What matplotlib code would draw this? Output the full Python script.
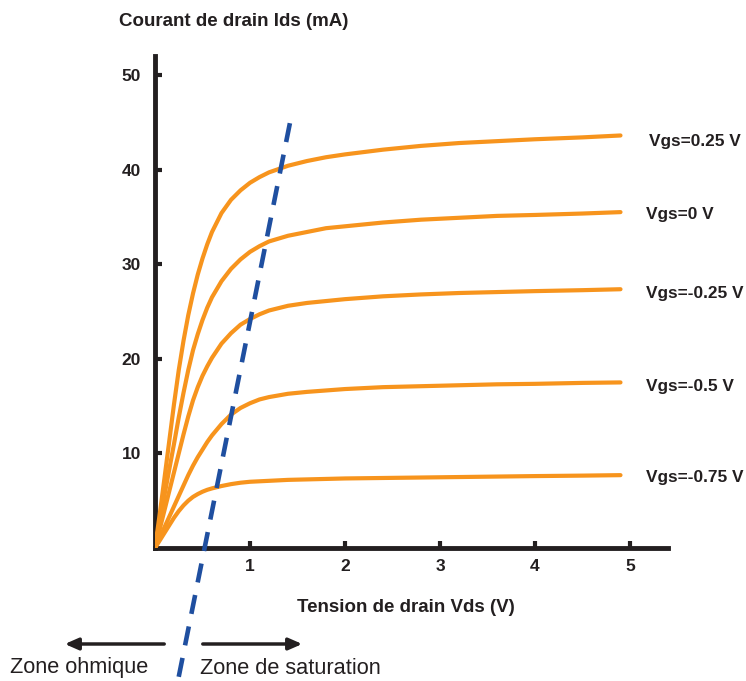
import matplotlib
matplotlib.use('Agg')
import matplotlib.pyplot as plt

plt.rcParams['font.family'] = ['Liberation Sans', 'DejaVu Sans']

# Vds (V) sampled along the curves
vds = [0, 0.05, 0.1, 0.15, 0.2, 0.25, 0.3, 0.35, 0.4, 0.45, 0.5, 0.55, 0.6, 0.7, 0.8, 0.9,
       1.0, 1.1, 1.2, 1.4, 1.6, 1.8, 2.0, 2.4, 2.8, 3.2, 3.6, 4.0, 4.5, 4.9]

# Ids (mA) for each Vgs
ids_p025 = [0, 3.6, 7.4, 11.3, 15.2, 18.8, 21.9, 24.6, 26.9, 28.9, 30.6, 32.1, 33.4, 35.4, 36.8, 37.8,
            38.6, 39.2, 39.7, 40.4, 40.9, 41.3, 41.6, 42.1, 42.5, 42.8, 43.0, 43.2, 43.4, 43.6]
ids_0 = [0, 2.8, 5.6, 8.3, 11.0, 13.8, 16.4, 18.8, 20.9, 22.6, 24.1, 25.4, 26.5, 28.2, 29.5, 30.5,
         31.3, 31.9, 32.4, 33.0, 33.4, 33.8, 34.0, 34.4, 34.7, 34.9, 35.1, 35.2, 35.35, 35.5]
ids_m025 = [0, 2.0, 4.0, 6.0, 8.0, 10.0, 12.0, 13.9, 15.6, 17.0, 18.2, 19.2, 20.1, 21.6, 22.7, 23.6,
            24.2, 24.7, 25.1, 25.6, 25.9, 26.1, 26.3, 26.6, 26.8, 26.95, 27.05, 27.15, 27.25, 27.35]
ids_m05 = [0, 1.1, 2.2, 3.3, 4.4, 5.5, 6.6, 7.7, 8.7, 9.6, 10.4, 11.2, 11.9, 13.1, 14.1, 14.8,
           15.3, 15.7, 15.95, 16.3, 16.5, 16.65, 16.8, 17.0, 17.1, 17.2, 17.3, 17.35, 17.45, 17.5]
ids_m075 = [0, 0.8, 1.6, 2.4, 3.2, 3.9, 4.5, 5.0, 5.4, 5.7, 5.95, 6.15, 6.3, 6.55, 6.75, 6.9,
            7.0, 7.05, 7.1, 7.2, 7.25, 7.3, 7.35, 7.4, 7.45, 7.5, 7.55, 7.6, 7.65, 7.7]

curves = [ids_p025, ids_0, ids_m025, ids_m05, ids_m075]
labels = ['Vgs=0.25 V', 'Vgs=0 V', 'Vgs=-0.25 V', 'Vgs=-0.5 V', 'Vgs=-0.75 V']
label_ids = [43.0, 35.3, 26.9, 17.1, 7.4]

# boundary between the two zones
dash_vds = [1.42, 0.24]
dash_ids = [44.9, -14.1]

orange = '#F7941D'
blue = '#1F4FA0'
ink = '#231f20'

fig = plt.figure(figsize=(7.46, 6.81), dpi=100)
ax = fig.add_axes([155/746, 133/681, 513/746, 492/681])

for ids in curves:
    ax.plot(vds, ids, color=orange, lw=3.0, solid_capstyle='round',
            solid_joinstyle='round', zorder=3)

for i, (lab, y) in enumerate(zip(labels, label_ids)):
    x = 5.2 if i == 0 else 5.17
    ax.text(x, y, lab, fontsize=12.4, fontweight='bold', va='center', ha='left', color=ink)

ax.plot(dash_vds, dash_ids, color=blue, lw=3.3, dashes=(4.2, 2.8), clip_on=False, zorder=4)

ax.set_xlim(0, 5.4)
ax.set_ylim(0, 52)
ax.set_xticks([1, 2, 3, 4, 5])
ax.set_yticks([10, 20, 30, 40, 50])
ax.tick_params(direction='in', length=5, width=3, colors=ink, labelsize=12.5)
ax.tick_params(axis='x', pad=8)
ax.tick_params(axis='y', pad=10)
for t in ax.get_xticklabels() + ax.get_yticklabels():
    t.set_fontweight('bold')

for s in ['top', 'right']:
    ax.spines[s].set_visible(False)
for s in ['left', 'bottom']:
    ax.spines[s].set_linewidth(3.5)
    ax.spines[s].set_color(ink)

fig.text(119/746, 1 - 22/681, 'Courant de drain Ids (mA)', fontsize=13.5, fontweight='bold',
         ha='left', va='center', color=ink)
fig.text(406/746, 1 - 607/681, 'Tension de drain Vds (V)', fontsize=13.5, fontweight='bold',
         ha='center', va='center', color=ink)

arrow = dict(arrowstyle='-|>,head_length=0.8,head_width=0.35', color=ink, lw=2.5)
ax.annotate('', xy=(62, 681 - 644), xytext=(167, 681 - 644), xycoords='figure pixels',
            textcoords='figure pixels', arrowprops=arrow)
ax.annotate('', xy=(305, 681 - 644), xytext=(200, 681 - 644), xycoords='figure pixels',
            textcoords='figure pixels', arrowprops=arrow)
fig.text(10/746, 1 - 668/681, 'Zone ohmique', fontsize=15.7, ha='left', va='center', color=ink)
fig.text(200/746, 1 - 668/681, 'Zone de saturation', fontsize=15.7, ha='left', va='center', color=ink)

fig.savefig('out.png', dpi=100)
